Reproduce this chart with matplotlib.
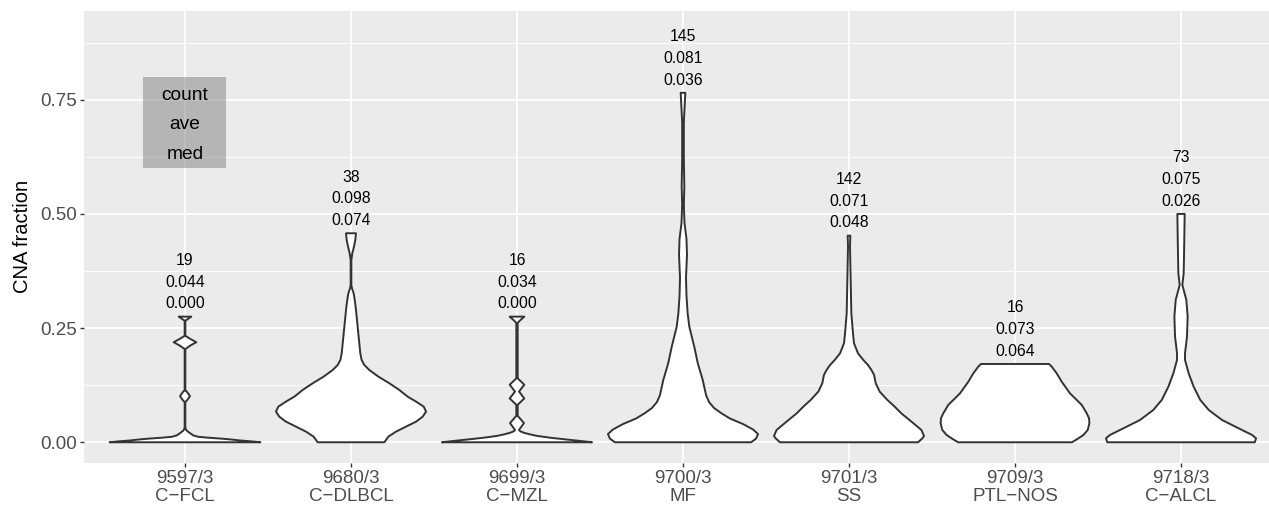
import numpy as np
import matplotlib
matplotlib.use('Agg')
import matplotlib.pyplot as plt
from matplotlib.patches import Rectangle

plt.rcParams['font.family'] = ['Liberation Sans', 'DejaVu Sans']

# categories (x tick labels)
codes = ['9597/3', '9680/3', '9699/3', '9700/3', '9701/3', '9709/3', '9718/3']
names = ['C\u2212FCL', 'C\u2212DLBCL', 'C\u2212MZL', 'MF', 'SS', 'PTL\u2212NOS', 'C\u2212ALCL']

# summary labels above each violin
counts = [19, 38, 16, 145, 142, 16, 73]
aves = [0.044, 0.098, 0.034, 0.081, 0.071, 0.073, 0.075]
meds = [0.000, 0.074, 0.000, 0.036, 0.048, 0.064, 0.026]

# violin outlines: CNA fraction level and half width
v9597_y = [0.000, 0.002, 0.004, 0.006, 0.008, 0.010, 0.012, 0.015, 0.020, 0.025, 0.029, 0.035,
           0.088, 0.093, 0.101, 0.109, 0.114, 0.204, 0.212, 0.219, 0.226, 0.233, 0.266, 0.275]
v9597_w = [0.454, 0.40, 0.33, 0.28, 0.22, 0.14, 0.08, 0.05, 0.03, 0.012, 0.004, 0.002,
           0.002, 0.015, 0.030, 0.015, 0.002, 0.002, 0.033, 0.068, 0.033, 0.002, 0.002, 0.038]

v9680_y = [0.000, 0.0123, 0.0233, 0.0342, 0.0452, 0.0561, 0.0671, 0.078, 0.089, 0.0999, 0.1145,
           0.1291, 0.1437, 0.1583, 0.1692, 0.1802, 0.1948, 0.2167, 0.2531, 0.2896, 0.3079, 0.3261,
           0.3371, 0.3444, 0.3626, 0.3991, 0.4137, 0.4283, 0.4429, 0.4575]
v9680_w = [0.201, 0.225, 0.271, 0.331, 0.392, 0.432, 0.452, 0.438, 0.392, 0.341, 0.291,
           0.231, 0.165, 0.110, 0.080, 0.064, 0.056, 0.050, 0.040, 0.030, 0.024, 0.016,
           0.006, 0.002, 0.002, 0.002, 0.008, 0.018, 0.026, 0.030]

v9699_y = [0.000, 0.003, 0.006, 0.010, 0.014, 0.018, 0.021, 0.024, 0.027, 0.042, 0.058, 0.082,
           0.096, 0.111, 0.126, 0.140, 0.261, 0.266, 0.275]
v9699_w = [0.452, 0.38, 0.30, 0.20, 0.12, 0.07, 0.04, 0.02, 0.012, 0.042, 0.004, 0.004,
           0.044, 0.012, 0.044, 0.004, 0.004, 0.016, 0.044]

v9700_y = [0.000, 0.008, 0.018, 0.028, 0.040, 0.052, 0.064, 0.075, 0.088, 0.103, 0.136, 0.173,
           0.209, 0.253, 0.282, 0.320, 0.360, 0.410, 0.445, 0.480, 0.520, 0.560, 0.620, 0.700, 0.765]
v9700_w = [0.410, 0.440, 0.452, 0.422, 0.361, 0.283, 0.229, 0.187, 0.157, 0.139, 0.119, 0.089,
           0.068, 0.038, 0.028, 0.021, 0.018, 0.024, 0.021, 0.009, 0.005, 0.008, 0.005, 0.005, 0.014]

v9701_y = [0.000, 0.0087, 0.0138, 0.027, 0.0452, 0.0634, 0.078, 0.0926, 0.1108, 0.1291, 0.1473,
           0.1583, 0.1692, 0.1802, 0.1948, 0.2167, 0.2385, 0.2823, 0.3553, 0.4283, 0.4523]
v9701_w = [0.416, 0.442, 0.452, 0.436, 0.376, 0.315, 0.275, 0.231, 0.185, 0.161, 0.151,
           0.135, 0.114, 0.086, 0.054, 0.030, 0.024, 0.014, 0.010, 0.006, 0.008]

v9709_y = [0.000, 0.0087, 0.016, 0.027, 0.0415, 0.0525, 0.0634, 0.0817, 0.1072, 0.1327, 0.151,
           0.1656, 0.1714]
v9709_w = [0.343, 0.382, 0.412, 0.438, 0.448, 0.446, 0.432, 0.402, 0.331, 0.281, 0.251,
           0.221, 0.205]

v9718_y = [0.000, 0.0087, 0.016, 0.0306, 0.0488, 0.0707, 0.0926, 0.1218, 0.151, 0.1802, 0.1948,
           0.2312, 0.275, 0.3115, 0.3334, 0.3444, 0.3699, 0.4064, 0.4502, 0.4998]
v9718_w = [0.444, 0.452, 0.428, 0.347, 0.247, 0.167, 0.116, 0.076, 0.046, 0.024, 0.024,
           0.036, 0.040, 0.032, 0.016, 0.008, 0.016, 0.018, 0.020, 0.022]

prof_y = [v9597_y, v9680_y, v9699_y, v9700_y, v9701_y, v9709_y, v9718_y]
prof_w = [v9597_w, v9680_w, v9699_w, v9700_w, v9701_w, v9709_w, v9718_w]

fig = plt.figure(figsize=(12.69, 5.08), dpi=100)
ax = fig.add_axes([84 / 1269, 45.3 / 508, 1185 / 1269, 451.7 / 508])
ax.set_facecolor('#EBEBEB')

for s in ax.spines.values():
    s.set_visible(False)

ax.set_xlim(0.3916, 7.530)
ax.set_ylim(-0.0447, 0.944)
ax.set_yticks([0, 0.25, 0.5, 0.75])
ax.set_yticklabels(['0.00', '0.25', '0.50', '0.75'])
ax.set_yticks([0.125, 0.375, 0.625, 0.875], minor=True)
ax.set_xticks(range(1, 8))
ax.set_xticklabels([c + '\n' + n for c, n in zip(codes, names)], linespacing=1.1)
ax.grid(which='major', color='white', lw=1.3)
ax.grid(which='minor', axis='y', color='white', lw=0.65)
ax.set_axisbelow(True)
ax.tick_params(which='major', length=2.9, width=1.0, color='#333333', labelcolor='#4D4D4D',
               labelsize=13.5, pad=2.2)
ax.tick_params(which='minor', length=0)
ax.set_ylabel('CNA fraction', fontsize=14.5, labelpad=6)

for i in range(7):
    xc = i + 1
    y = np.array(prof_y[i])
    w = np.array(prof_w[i])
    xs = np.concatenate([xc - w, (xc + w)[::-1]])
    ys = np.concatenate([y, y[::-1]])
    ax.fill(xs, ys, facecolor='white', edgecolor='#333333', lw=1.4, joinstyle='round', zorder=3)
    top = y[-1]
    lines = ['%.3f' % meds[i], '%.3f' % aves[i], str(counts[i])]
    for k, s in enumerate(lines):
        ax.annotate(s, xy=(xc, top), xytext=(0, 8.2 + 21.7 * k), textcoords='offset pixels',
                    ha='center', va='baseline', fontsize=11.3, color='black', zorder=4)

ax.add_patch(Rectangle((0.75, 0.6), 0.5, 0.2, facecolor='grey', alpha=0.5, lw=0, zorder=2))
for s, yy in zip(['count', 'ave', 'med'], [0.75, 0.685, 0.62]):
    ax.text(1, yy, s, ha='center', va='baseline', fontsize=13.8, zorder=4)

fig.savefig('out.png', dpi=100)
